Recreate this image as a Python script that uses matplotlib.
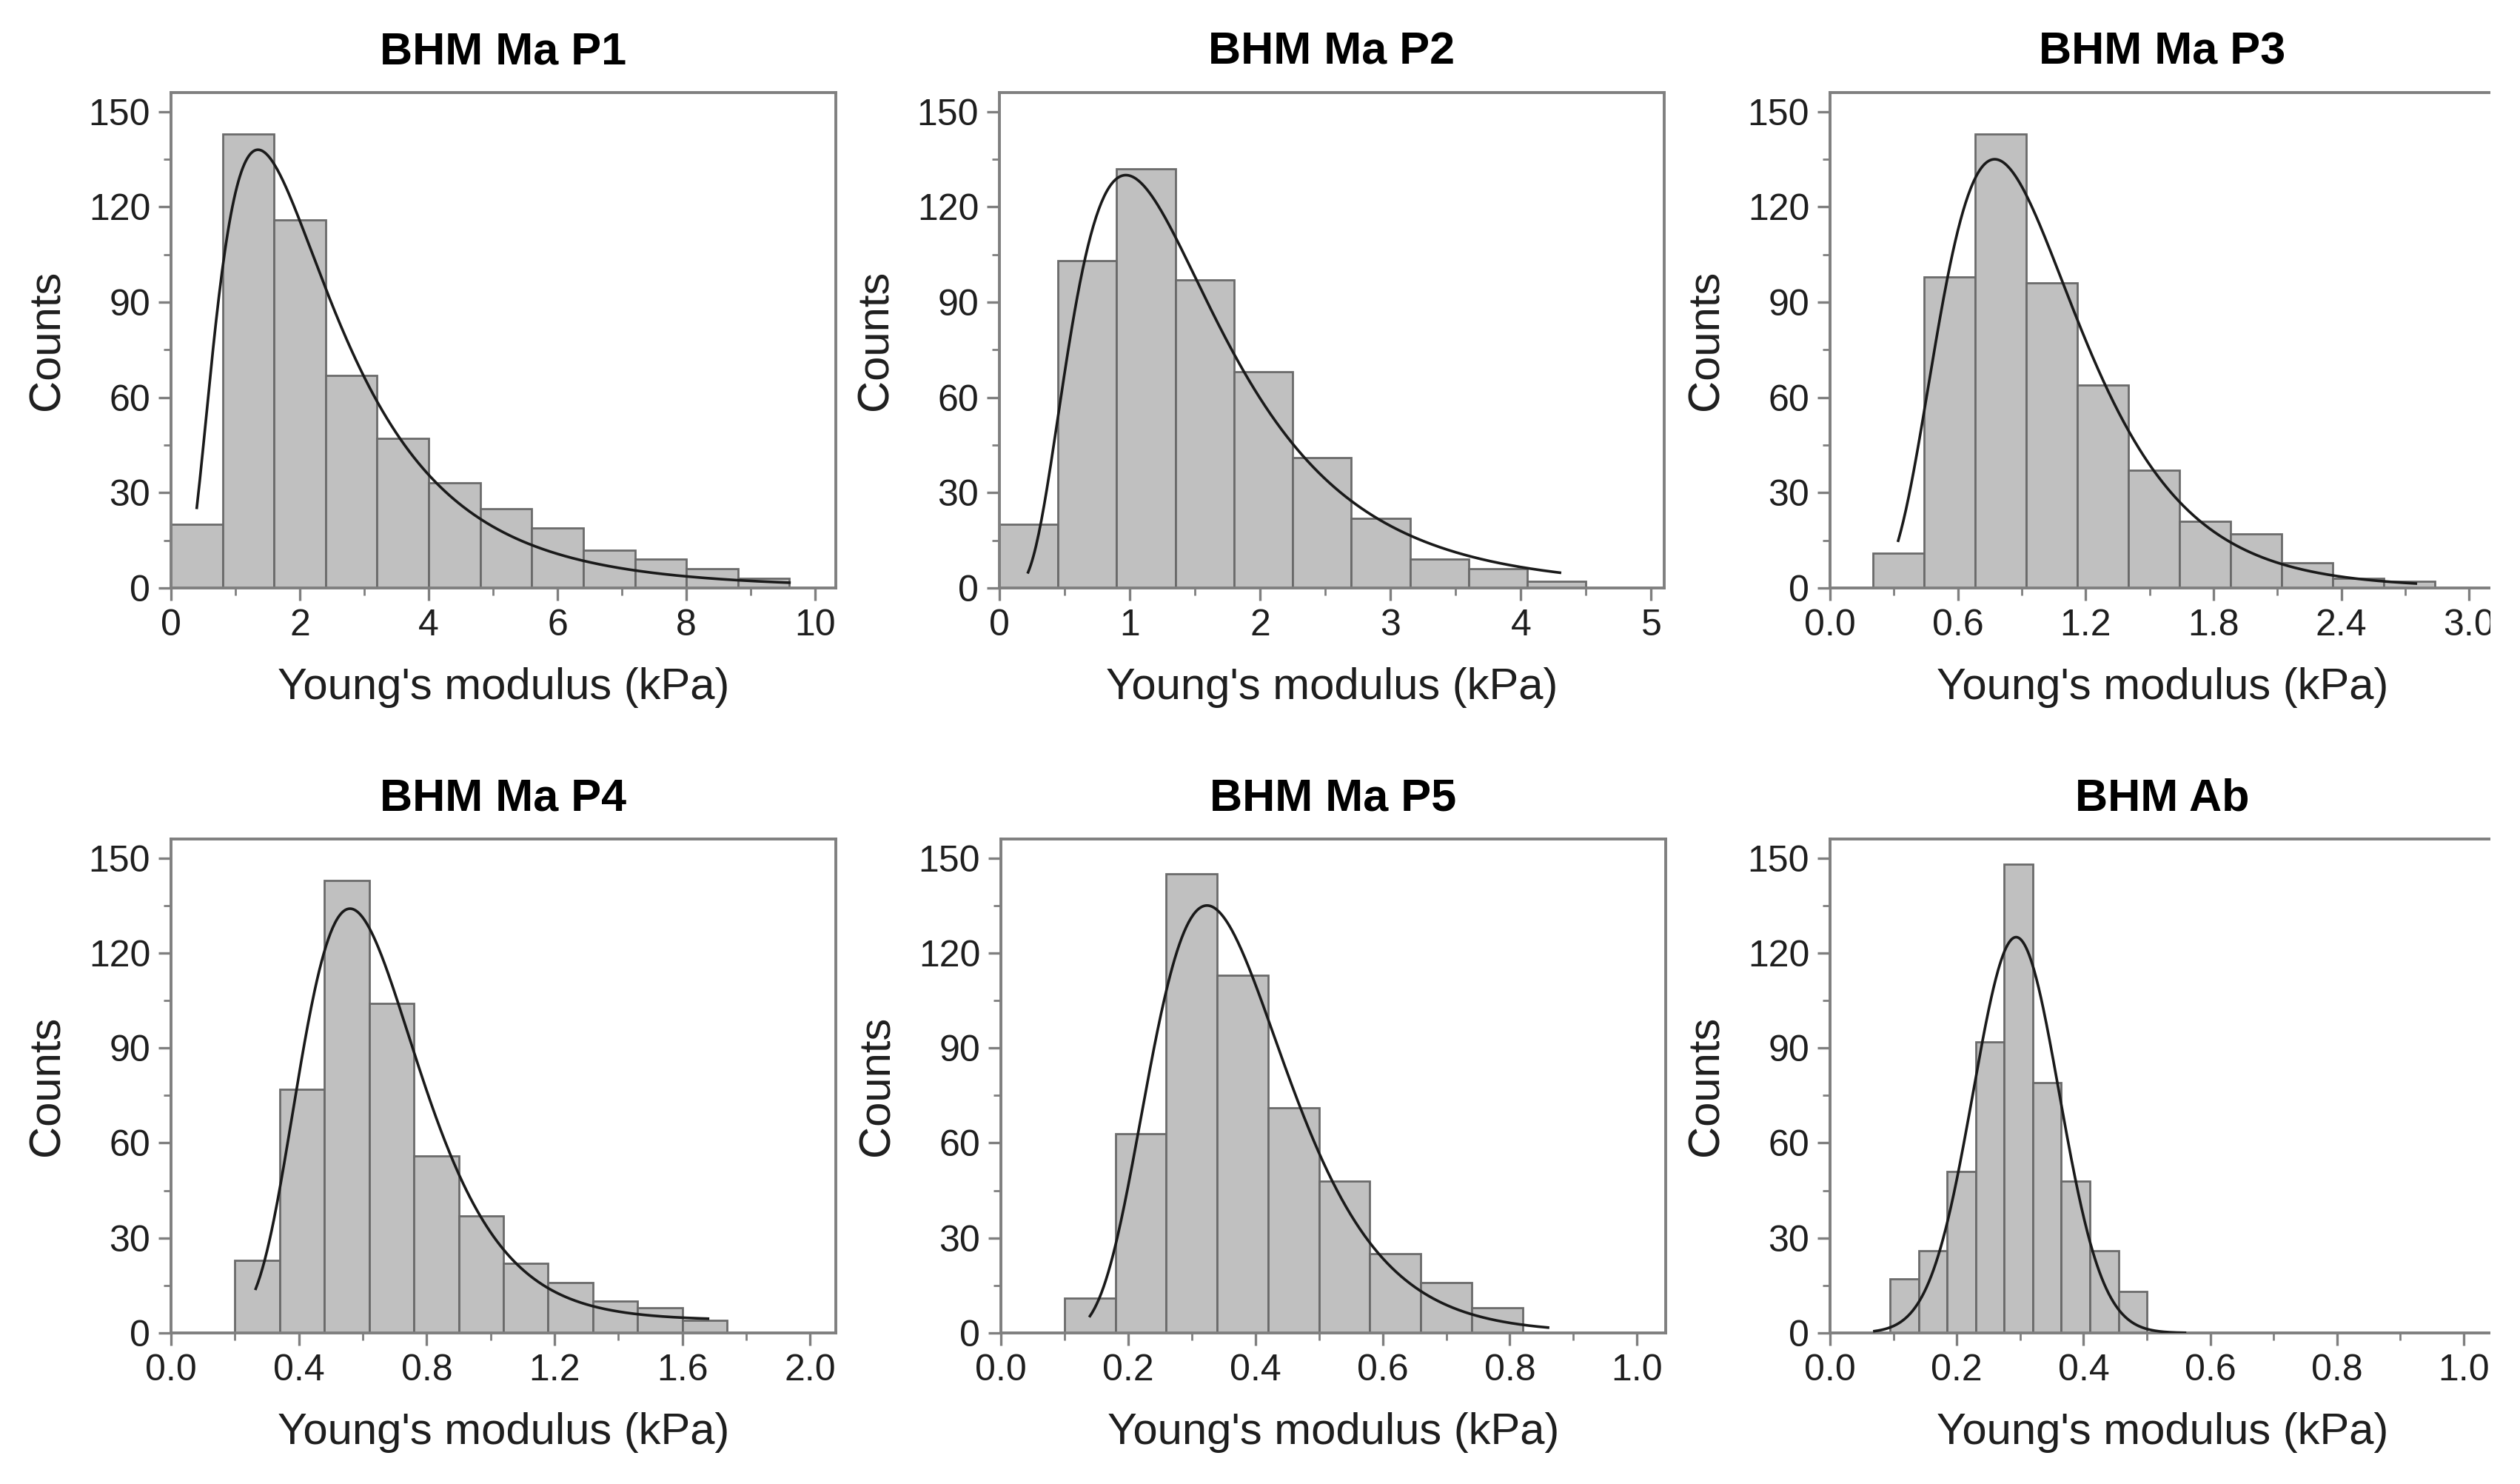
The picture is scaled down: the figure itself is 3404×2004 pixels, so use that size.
import numpy as np
import matplotlib
matplotlib.use("Agg")
import matplotlib.pyplot as plt
from matplotlib.patches import Rectangle
from matplotlib.ticker import MultipleLocator

plt.rcParams['font.family'] = ['Liberation Sans', 'DejaVu Sans']

titles = ["BHM Ma P1", "BHM Ma P2", "BHM Ma P3", "BHM Ma P4", "BHM Ma P5", "BHM Ab"]

# histogram bins: first edge, bin width, counts
bin_start = [0.0, 0.0, 0.2, 0.2, 0.1, 0.095]
bin_width = [0.8, 0.45, 0.24, 0.14, 0.08, 0.045]
counts_p1 = [20, 143, 116, 67, 47, 33, 25, 19, 12, 9, 6, 3]
counts_p2 = [20, 103, 132, 97, 68, 41, 22, 9, 6, 2]
counts_p3 = [11, 98, 143, 96, 64, 37, 21, 17, 8, 3, 2]
counts_p4 = [23, 77, 143, 104, 56, 37, 22, 16, 10, 8, 4]
counts_p5 = [11, 63, 145, 113, 71, 48, 25, 16, 8]
counts_ab = [17, 26, 51, 92, 148, 79, 48, 26, 13]
all_counts = [counts_p1, counts_p2, counts_p3, counts_p4, counts_p5, counts_ab]

# fitted curves: kind, mode, peak height, width, offset, x range
fit_kind = ["lognormal", "lognormal", "lognormal", "lognormal", "lognormal", "gauss"]
fit_mode = [1.35, 0.97, 0.773, 0.56, 0.324, 0.2936]
fit_peak = [138, 130, 135, 130, 135, 125]
fit_width = [0.66, 0.58, 0.42, 0.33, 0.33, 0.068]
fit_y0 = [0, 0, 0, 4, 0, 0]
fit_from = [0.4, 0.22, 0.32, 0.265, 0.14, 0.07]
fit_to = [9.6, 4.3, 2.75, 1.68, 0.86, 0.56]

# axes: x limit, major step, tick format
x_max = [10.32, 5.1, 3.121, 2.08, 1.045, 1.049]
x_major = [2, 1, 0.6, 0.4, 0.2, 0.2]
x_fmt = ["{:.0f}", "{:.0f}", "{:.1f}", "{:.1f}", "{:.1f}", "{:.1f}"]

W, H = 3404, 2004
lefts = [231, 1350, 2472, 231, 1352, 2472]
bottoms = [794, 794, 794, 1800, 1800, 1800]
heights = [669, 669, 669, 667, 667, 667]
ax_w = 898

fig = plt.figure(figsize=(W / 200, H / 200), dpi=200)
spine_col = '#7f7f7f'
text_col = '#1e1e1e'


def fit_curve(i, x):
    if fit_kind[i] == "gauss":
        return fit_y0[i] + fit_peak[i] * np.exp(-(x - fit_mode[i]) ** 2 / (2 * fit_width[i] ** 2))
    s = fit_width[i]
    mu = np.log(fit_mode[i]) + s ** 2
    shape = (fit_mode[i] / x) * np.exp(-(np.log(x) - mu) ** 2 / (2 * s ** 2)) / np.exp(-s ** 2 / 2)
    return fit_y0[i] + fit_peak[i] * shape


for i in range(6):
    ax = fig.add_axes([lefts[i] / W, 1 - bottoms[i] / H, ax_w / W, heights[i] / H])
    c = all_counts[i]
    edges = bin_start[i] + bin_width[i] * np.arange(len(c))
    ax.bar(edges, c, width=bin_width[i], align='edge', color='#c0c0c0',
           edgecolor='#6a6a6a', linewidth=1.0, zorder=2)
    xs = np.linspace(fit_from[i], fit_to[i], 400)
    ax.plot(xs, fit_curve(i, xs), color='#1a1a1a', linewidth=1.3, zorder=3)

    ax.set_xlim(0, x_max[i])
    ax.set_ylim(0, 156)
    ax.xaxis.set_minor_locator(MultipleLocator(x_major[i] / 2))
    ax.yaxis.set_major_locator(MultipleLocator(30))
    ax.yaxis.set_minor_locator(MultipleLocator(15))
    ticks = [t for t in np.arange(0, x_max[i] + 1e-9, x_major[i])]
    ax.set_xticks(ticks)
    ax.set_xticklabels([x_fmt[i].format(t) for t in ticks])

    ax.tick_params(which='major', direction='out', length=6, width=1.2,
                   color=spine_col, labelsize=18, labelcolor=text_col, pad=4)
    ax.tick_params(which='minor', direction='out', length=3.5, width=1.0, color=spine_col)
    ax.tick_params(top=False, right=False, which='both')
    for sp in ax.spines.values():
        sp.set_color(spine_col)
        sp.set_linewidth(1.4)

    ax.set_title(titles[i], fontsize=22, fontweight='bold', pad=14, color='black')
    ax.set_xlabel("Young's modulus (kPa)", fontsize=21.5, labelpad=12, color=text_col)
    ax.set_ylabel("Counts", fontsize=21.5, labelpad=10, color=text_col)

# the source picture is cut off on the right
fig.add_artist(Rectangle((3364 / W, 0), 1, 1, transform=fig.transFigure,
                         facecolor='white', edgecolor='none', zorder=100))

fig.savefig("out.png", dpi=200, facecolor='white')
